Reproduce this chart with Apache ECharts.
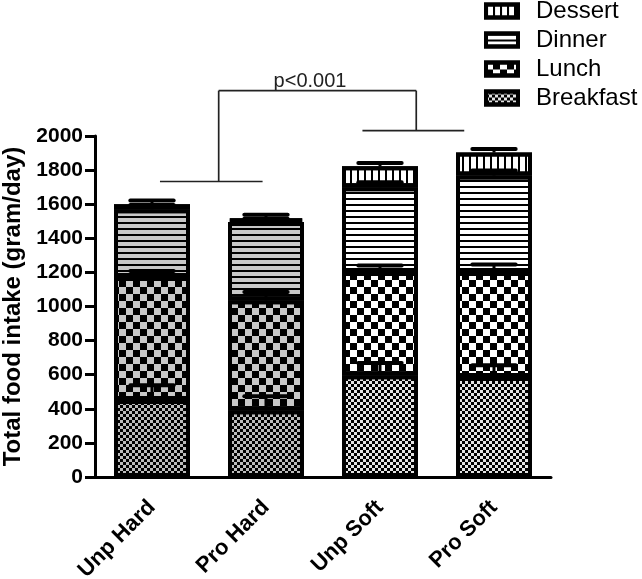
<!DOCTYPE html>
<html>
<head>
<meta charset="utf-8">
<title>Total food intake</title>
<script src="https://cdn.jsdelivr.net/npm/echarts@6/dist/echarts.min.js"></script>
<style>
html, body { margin: 0; padding: 0; background: #fff; }
#chart { width: 642px; height: 579px; }
</style>
</head>
<body>
<div id="chart"></div>
<script>
var categories = ["Unp Hard", "Pro Hard", "Unp Soft", "Pro Soft"];
// meal intake per group (gram/day), stacked bottom to top
var breakfast = [451, 392, 597, 587];
var lunch = [722, 644, 605, 615];
var dinner = [397, 459, 498, 566];
var dessert = [30, 21, 122, 135];
// upward error bars (SD)
var breakfastSd = [87, 82, 72, 69];
var lunchSd = [35, 49, 39, 45];
var dinnerSd = [25, 20, 29, 29];
var dessertSd = [22, 22, 20, 21];
var yMin = 0, yMax = 2000, yStep = 200;
// significance bracket: [x1, y1, x2, y2], x in bar units (0 = first bar)
var bracketLines = [
    [0.07, 1733, 0.97, 1733],
    [0.585, 1733, 0.585, 2266],
    [0.585, 2266, 2.318, 2266],
    [2.318, 2266, 2.318, 2032],
    [1.846, 2032, 2.739, 2032]
];
var sigLabel = [1.386, 2262, "p<0.001"];

var FONT = "Liberation Sans";
var hardSoftFill = ["#c8c8c8", "#c8c8c8", "#ffffff", "#ffffff"];
var breakfastFill = ["#bcbcbc", "#bcbcbc", "#e4e4e4", "#e4e4e4"];

var chart = echarts.init(document.getElementById("chart"));

function barSeries(name, values, fills, decal) {
    return {
        name: name,
        type: "bar",
        stack: "total",
        barWidth: 76,
        z: 2,
        itemStyle: { color: fills[3], borderColor: "#000", borderWidth: 4, decal: decal },
        emphasis: { disabled: true },
        data: values.map(function (v, i) {
            return { value: v, itemStyle: { color: fills[i] } };
        })
    };
}

//error bars sit on top of each stacked segment
var errData = [];
var segs = [[breakfast, breakfastSd], [lunch, lunchSd], [dinner, dinnerSd], [dessert, dessertSd]];
for (var i = 0; i < categories.length; i++) {
    var cum = 0;
    for (var s = 0; s < segs.length; s++) {
        cum += segs[s][0][i];
        errData.push([i, cum, segs[s][1][i]]);
    }
}

var option = {
    animation: false,
    backgroundColor: "#fff",
    grid: { left: 95, right: 91, top: 136, bottom: 102, outerBoundsMode: "none" },
    legend: {
        data: ["Dessert", "Dinner", "Lunch", "Breakfast"],
        orient: "vertical",
        left: 479,
        top: -6,
        icon: "rect",
        itemWidth: 32,
        itemHeight: 13,
        itemGap: 5,
        selectedMode: false,
        itemStyle: { borderColor: "#000", borderWidth: 4 },
        textStyle: { fontFamily: FONT, fontSize: 24, color: "#000", padding: [0, 0, 0, 13] }
    },
    xAxis: [{
        type: "category",
        data: categories,
        axisLine: { onZero: false, lineStyle: { color: "#000", width: 3 } },
        axisTick: { alignWithLabel: true, length: 10, lineStyle: { color: "#000", width: 3 } },
        axisLabel: { interval: 0, rotate: 45, margin: 27, fontFamily: FONT, fontSize: 22, fontWeight: "bold", color: "#000" }
    }, {
        type: "value", min: -0.5, max: 3.5, show: false
    }],
    yAxis: {
        type: "value",
        min: yMin, max: yMax, interval: yStep,
        name: "Total food intake (gram/day)",
        nameLocation: "middle",
        nameGap: 66,
        nameTextStyle: { fontFamily: FONT, fontSize: 24, fontWeight: "bold", color: "#000" },
        axisLine: { show: true, onZero: false, lineStyle: { color: "#000", width: 3 } },
        axisTick: { show: true, length: 10, lineStyle: { color: "#000", width: 3 } },
        splitLine: { show: false },
        axisLabel: {
            margin: 12, fontFamily: FONT, fontSize: 21, fontWeight: "bold", color: "#000",
            formatter: function (v) { return String(v); }
        }
    },
    series: [
        barSeries("Breakfast", breakfast, breakfastFill,
            { symbol: "rect", symbolSize: 1, color: "#000", dashArrayX: [[3, 3], [0, 3, 3, 0]], dashArrayY: [3, 0] }),
        barSeries("Lunch", lunch, hardSoftFill,
            { symbol: "rect", symbolSize: 1, color: "#000", dashArrayX: [[7, 7], [0, 7, 7, 0]], dashArrayY: [7, 0] }),
        barSeries("Dinner", dinner, hardSoftFill,
            { symbol: "rect", symbolSize: 1, color: "#000", dashArrayX: [10, 0], dashArrayY: [2, 4] }),
        barSeries("Dessert", dessert, hardSoftFill,
            { symbol: "rect", symbolSize: 1, color: "#000", dashArrayX: [2, 5], dashArrayY: [10, 0] }),
        {
            type: "custom",
            name: "sd",
            z: 5,
            silent: true,
            encode: { x: 0, y: 1 },
            data: errData,
            renderItem: function (params, api) {
                var x = api.value(0), top = api.value(1), sd = api.value(2);
                var p0 = api.coord([x, top]);
                var p1 = api.coord([x, top + sd]);
                var half = api.size([1, 0])[0] * 0.19;
                return {
                    type: "group",
                    children: [
                        { type: "line", shape: { x1: p0[0], y1: p0[1], x2: p1[0], y2: p1[1] }, style: { stroke: "#000", lineWidth: 3 } },
                        { type: "line", shape: { x1: p0[0] - half, y1: p1[1], x2: p0[0] + half, y2: p1[1] }, style: { stroke: "#000", lineWidth: 4, lineCap: "round" } }
                    ]
                };
            }
        },
        {
            type: "custom",
            name: "bracket",
            xAxisIndex: 1,
            silent: true,
            clip: false,
            encode: { x: [0, 2], y: [1, 3] },
            data: bracketLines,
            renderItem: function (params, api) {
                var a = api.coord([api.value(0), api.value(1)]);
                var b = api.coord([api.value(2), api.value(3)]);
                return { type: "line", shape: { x1: a[0], y1: a[1], x2: b[0], y2: b[1] }, style: { stroke: "#222", lineWidth: 1.7 } };
            }
        },
        {
            type: "custom",
            name: "sig",
            xAxisIndex: 1,
            silent: true,
            clip: false,
            encode: { x: 0, y: 1 },
            data: [sigLabel],
            renderItem: function (params, api) {
                var p = api.coord([api.value(0), api.value(1)]);
                return {
                    type: "text", x: p[0], y: p[1],
                    style: { text: sigLabel[2], fontFamily: FONT, fontSize: 20, fill: "#222", align: "center", verticalAlign: "bottom" }
                };
            }
        }
    ]
};
chart.setOption(option);
</script>
</body>
</html>
